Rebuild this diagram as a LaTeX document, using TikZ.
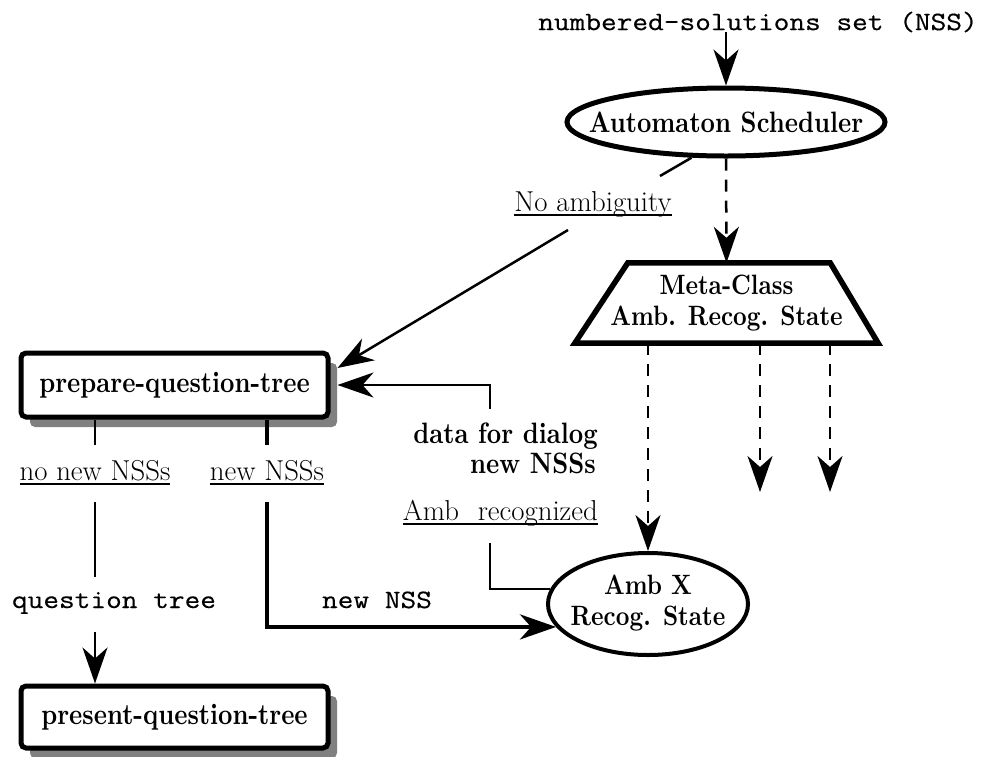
\documentclass[tikz,border=0pt]{standalone}
\usepackage{fontspec}
\newfontfamily\courfont{Latin Modern Mono}[FakeStretch=1.15, FakeBold=0.4]
\newfontfamily\bfam{lmroman10-bold.otf}[FakeStretch=0.85]
\usetikzlibrary{arrows.meta,shadows,shapes.geometric}
\newcommand\myul[1]{\setbox0\hbox{#1}\rlap{\rule[-4.5pt]{\wd0}{1.6pt}}\box0}
\tikzset{
 bfnt/.style={font=\fontsize{29.5}{31}\selectfont\bfam},
 bfsm/.style={font=\fontsize{28}{31}\selectfont\bfam},
 rmnt/.style={font=\fontsize{28.8}{31}\selectfont},
 ttnt/.style={font=\fontsize{26.5}{31}\selectfont\courfont},
 qbox/.style={draw, rectangle, rounded corners=5pt, line width=5pt, fill=white,
   minimum width=307pt, minimum height=64pt, inner sep=0pt, bfnt,
   drop shadow={shadow xshift=9pt, shadow yshift=-10pt, fill=black!50, opacity=1}},
 oval/.style={draw, ellipse, fill=white, inner sep=0pt},
 conn/.style={line width=2pt},
 tip/.style={-{Stealth[length=36pt,width=25pt,inset=11pt]}},
 dsh/.style={line width=2.5pt, dash pattern=on 12pt off 9pt},
 lbl/.style={inner sep=0pt, anchor=base}
}
\begin{document}
\begin{tikzpicture}[x=1pt,y=-1pt]
\useasboundingbox (0,0) rectangle (985,756);

% nodes
\node[ttnt, inner sep=0pt] (title) at (758,22) {numbered-solutions set (NSS)};
\node[oval, bfnt, line width=5pt, minimum width=318pt, minimum height=68pt] (sched) at (726,122) {\makebox[0pt]{Automaton Scheduler}};
\node[bfsm, inner sep=0pt, minimum width=303pt, minimum height=80pt, align=center] (meta) at (726.5,303) {Meta-Class\\Amb. Recog. State};
\draw[line width=5.5pt, line join=miter] ([xshift=53pt]meta.north west) -- ([xshift=-48pt]meta.north east) -- (meta.south east) -- (meta.south west) -- cycle;
\node[qbox] (prep) at (174.5,385) {prepare-question-tree};
\node[qbox, minimum height=62pt] (pres) at (174.5,717) {present-question-tree};
\node[oval, bfsm, line width=4pt, minimum width=200pt, minimum height=102pt] (ambx) at (648,604) {\makebox[0pt]{\begin{tabular}{@{}c@{}}Amb X\\Recog. State\end{tabular}}};

% labels
\node[rmnt, lbl] (lnoamb) at (593,211) {\myul{No ambiguity}};
\node[rmnt, lbl] (lnonew) at (95,480) {\myul{no new NSSs}};
\node[rmnt, lbl] (lnew) at (267,480) {\myul{new NSSs}};
\node[rmnt, inner sep=0pt, anchor=base east] (lamb) at (598,520) {\myul{Amb\hspace{0.35em} recognized}};
\node[bfnt, inner sep=0pt, anchor=base east] (ldata) at (598,443) {data for dialog};
\node[bfnt, inner sep=0pt, anchor=base east] (lnss) at (596,473) {new NSSs};
\node[ttnt, lbl] (lqt) at (114,608) {question tree};
\node[ttnt, lbl] (lnewnss) at (377,608) {new NSS};

% free ends
\coordinate (na1) at (660,176);
\coordinate (na2) at (568,230);
\coordinate (dd) at (490,409);
\coordinate (ar) at (490,543);
\coordinate (n1) at (95,445);
\coordinate (n2) at (95,502);
\coordinate (n3) at (95,577);
\coordinate (n4) at (95,632);
\coordinate (t1) at (267,445);
\coordinate (t2) at (267,502);
\coordinate (e2) at (760,492);
\coordinate (e3) at (830,492);

% connectors
\draw[conn, tip] (title.south -| sched.north) -- (sched.north);
\draw[dsh, tip] (sched.south) -- (meta.north);
\draw[line width=2.5pt] (sched.226) -- (na1);
\draw[line width=2.5pt, tip] (na2) -- ([xshift=7pt,yshift=17pt]prep.east);
\draw[conn, tip] (dd) |- ([xshift=7pt]prep.east);
\draw[conn] (ar) |- (ambx.171);
\draw[conn] (prep.south -| n1) -- (n1);
\draw[conn] (n2) -- (n3);
\draw[conn, tip] (n4) -- (pres.north -| n4);
\draw[line width=4pt] (prep.south -| t1) -- (t1);
\draw[line width=4pt, tip] (t2) |- (ambx.194);
\draw[dsh, tip] (meta.south -| ambx.north) -- (ambx.north);
\draw[dsh, tip] (meta.south -| e2) -- (e2);
\draw[dsh, tip] (meta.south -| e3) -- (e3);
\end{tikzpicture}
\end{document}
